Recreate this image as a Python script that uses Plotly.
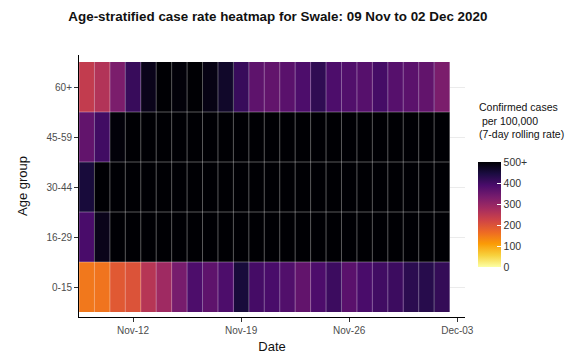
import pandas as pd
import plotly.graph_objects as go

# Dates shown on the x axis (one tile per day)
dates = pd.date_range("2020-11-09", "2020-12-02", freq="D")

age_groups = ["0-15", "16-29", "30-44", "45-59", "60+"]

# 7-day rolling case rate per 100,000 (values at/over 500 shown as 500+)
rate_0_15 = [150, 155, 190, 200, 255, 285, 335, 385, 365, 385, 450, 395,
             390, 380, 360, 385, 405, 370, 390, 400, 405, 425, 430, 415]
rate_16_29 = [390, 480, 500, 500, 500, 500, 500, 500, 500, 500, 500, 500,
              500, 500, 500, 500, 500, 500, 500, 500, 500, 500, 500, 500]
rate_30_44 = [450, 500, 500, 500, 500, 500, 500, 500, 500, 500, 500, 500,
              500, 500, 500, 500, 500, 500, 500, 500, 500, 500, 500, 500]
rate_45_59 = [360, 400, 495, 500, 500, 500, 500, 500, 500, 500, 500, 500,
              500, 500, 500, 500, 500, 500, 500, 500, 500, 500, 500, 500]
rate_60_plus = [240, 260, 330, 410, 480, 500, 495, 500, 485, 465, 410, 365,
                360, 370, 385, 420, 385, 380, 375, 395, 375, 368, 360, 330]

cbar_vals = [0, 100, 200, 300, 400, 500]
cbar_text = ["0", "100", "200", "300", "400", "500+"]

x_ticks = pd.to_datetime(["2020-11-12", "2020-11-19", "2020-11-26", "2020-12-03"])

z = [rate_0_15, rate_16_29, rate_30_44, rate_45_59, rate_60_plus]
rows = list(range(len(age_groups)))

font = "Liberation Sans, Arial, sans-serif"
half_day = pd.Timedelta(hours=12)

fig = go.Figure()

fig.add_trace(go.Heatmap(
    x=dates, y=rows, z=z,
    zmin=0, zmax=500,
    colorscale="Inferno_r",
    hovertemplate="%{x|%d %b}<br>%{z}<extra></extra>",
    colorbar=dict(
        x=1.033, xanchor="left", xref="paper", xpad=0,
        y=0.391, yanchor="middle", ypad=0,
        thickness=23, len=105, lenmode="pixels",
        outlinewidth=0,
        tickvals=cbar_vals, ticktext=cbar_text,
        ticks="inside", ticklen=4, tickcolor="white",
        tickfont=dict(family=font, size=10.5, color="#333333"),
    ),
))

# thin light borders round each tile
edges_x = list(dates - half_day) + [dates[-1] + half_day]
bx, by = [], []
for e in edges_x:
    bx += [e, e, None]
    by += [rows[0] - 0.5, rows[-1] + 0.5, None]
for r in rows[:-1]:
    bx += [edges_x[0], edges_x[-1], None]
    by += [r + 0.5, r + 0.5, None]
fig.add_trace(go.Scatter(x=bx, y=by, mode="lines", hoverinfo="skip", showlegend=False,
                         line=dict(color="rgba(255,255,255,0.35)", width=1)))

fig.add_annotation(text="Confirmed cases<br> per 100,000<br>(7-day rolling rate)",
                   xref="paper", yref="paper", x=1.03, y=0.668,
                   xanchor="left", yanchor="bottom", align="left", showarrow=False,
                   font=dict(family=font, size=10.5, color="#111111"))

fig.update_layout(
    width=585, height=356,
    margin=dict(l=79, r=120, t=55, b=39, autoexpand=False),
    paper_bgcolor="white", plot_bgcolor="white",
    title=dict(text="<b>Age-stratified case rate heatmap for Swale: 09 Nov to 02 Dec 2020</b>",
               x=0.475, xanchor="center", y=0.955, yanchor="middle",
               font=dict(family=font, size=13.4, color="#111111")),
    font=dict(family=font),
)

fig.update_xaxes(
    range=[dates[0] - half_day, dates[-1] + 3 * half_day],
    tickvals=x_ticks, tickformat="%b-%d",
    ticks="outside", ticklen=4, tickcolor="#333333",
    tickfont=dict(size=10, color="#4d4d4d"),
    showline=True, linecolor="black", linewidth=1,
    showgrid=False, zeroline=False, automargin=False,
    title=dict(text="Date", font=dict(size=13, color="#111111"), standoff=6),
)
fig.update_yaxes(
    range=[-0.6, 4.64],
    tickvals=rows, ticktext=age_groups,
    ticks="outside", ticklen=4, tickcolor="#333333",
    tickfont=dict(size=10, color="#4d4d4d"),
    showline=True, linecolor="black", linewidth=1,
    showgrid=True, gridcolor="#ebebeb", zeroline=False, automargin=False,
    title=dict(text="Age group", font=dict(size=13, color="#111111"), standoff=15),
)

fig.write_html("out.html", config={"displayModeBar": False},
               post_script="document.body.style.margin='0';")
